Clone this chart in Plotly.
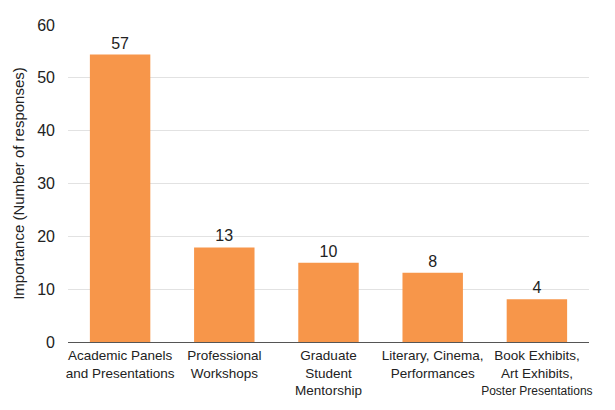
import plotly.graph_objects as go

categories = [
    "Academic Panels<br>and Presentations",
    "Professional<br>Workshops",
    "Graduate<br>Student<br>Mentorship",
    "Literary, Cinema,<br>Performances",
    "Book Exhibits,<br>Art Exhibits,<br><span style='font-size:12px'>Poster Presentations</span>",
]
bar_values = [54.4, 17.9, 15.0, 13.1, 8.1]
labels = ["57", "13", "10", "8", "4"]
y_ticks = [0, 10, 20, 30, 40, 50, 60]

fig = go.Figure(
    go.Bar(
        x=categories,
        y=bar_values,
        text=labels,
        textposition="outside",
        textfont=dict(size=16, color="#222"),
        marker=dict(color="#F7964A", line=dict(width=0)),
        cliponaxis=False,
    )
)

fig.update_layout(
    width=615,
    height=410,
    margin=dict(l=60, r=34, t=17, b=76),
    plot_bgcolor="white",
    paper_bgcolor="white",
    font=dict(family="Liberation Sans, Arial, sans-serif", color="#222"),
    bargap=0.42,
    showlegend=False,
)
fig.update_xaxes(
    showline=True,
    linecolor="#555",
    linewidth=1.2,
    tickfont=dict(size=13.5),
    tickangle=0,
    ticks="",
    showgrid=False,
    automargin=False,
    ticklabelstandoff=1,
)
fig.update_yaxes(
    range=[0, 60],
    tickvals=y_ticks,
    tickfont=dict(size=16),
    showgrid=True,
    gridcolor="#e2e2e2",
    zeroline=False,
    title=dict(text="Importance (Number of responses)", font=dict(size=15), standoff=8),
    ticks="",
    ticklabelstandoff=12,
    automargin=False,
)

fig.write_html("out.html")
